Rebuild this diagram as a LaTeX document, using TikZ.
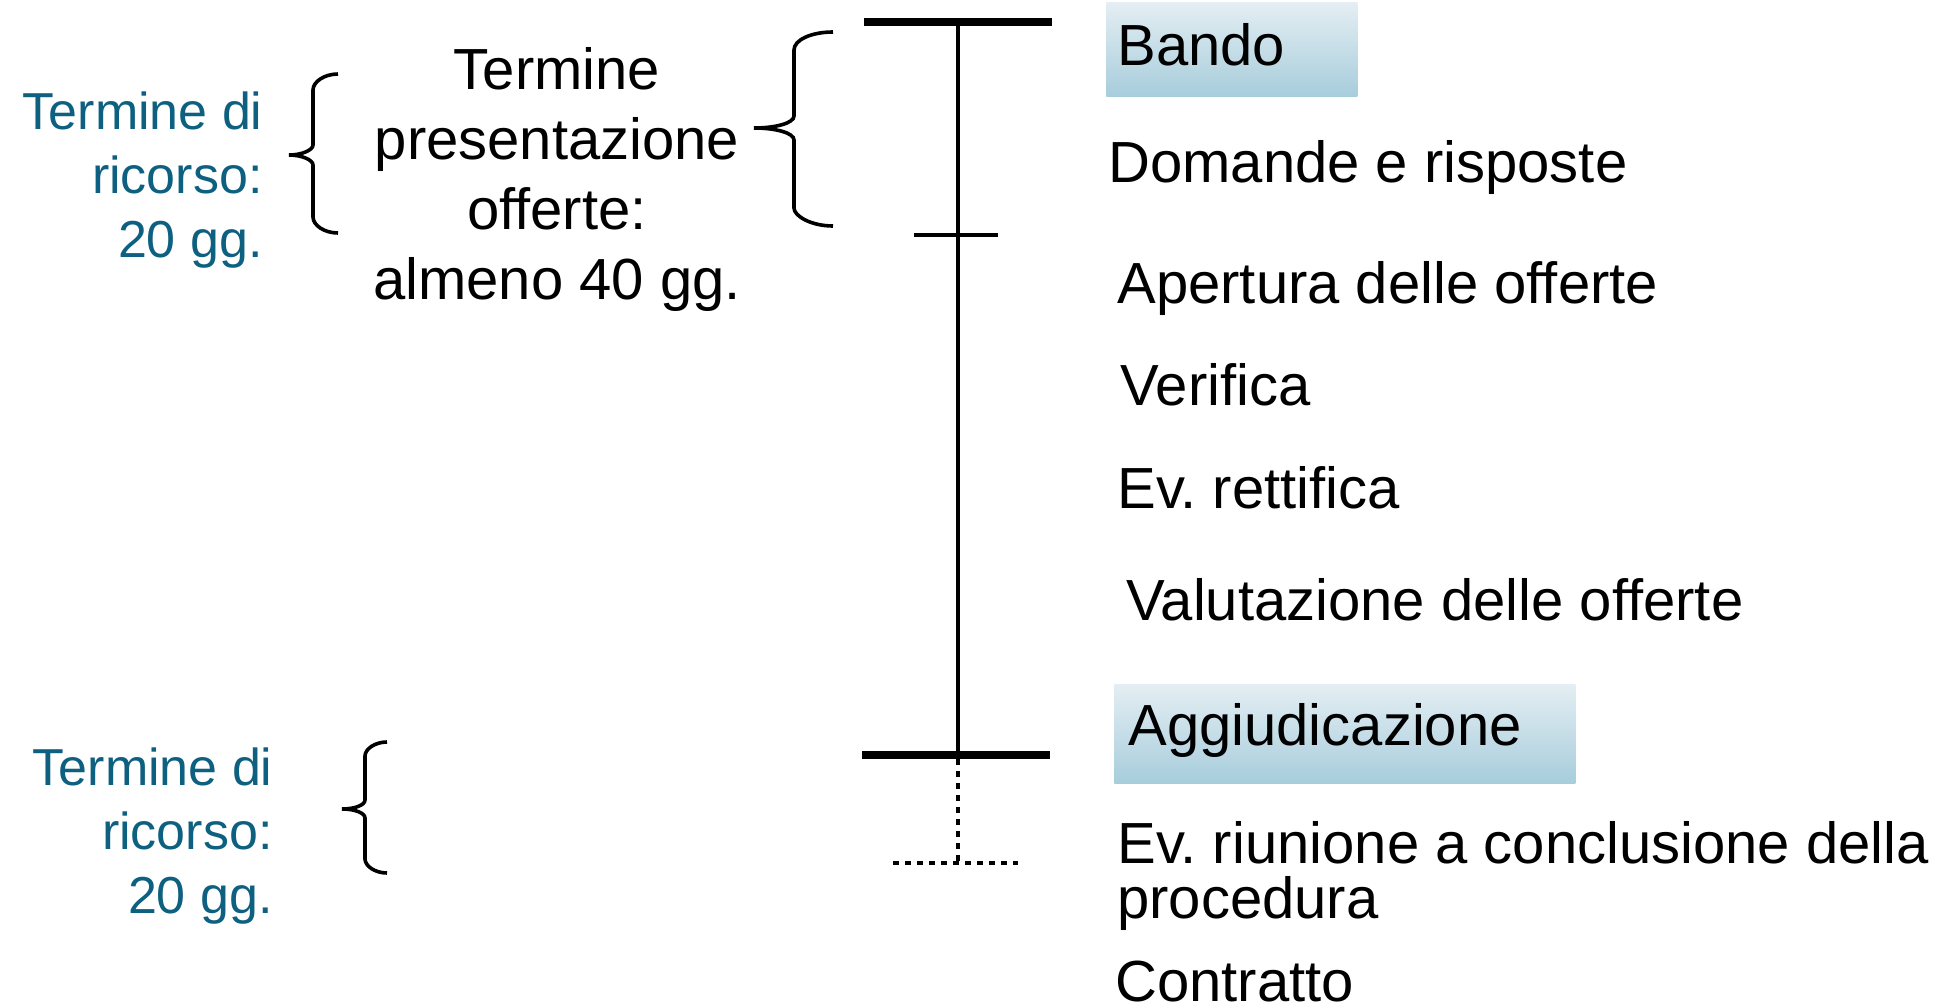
\documentclass[tikz,border=0pt]{standalone}
\usepackage{fontspec}
\setmainfont{Liberation Sans}
\usepackage{tikz}
\frenchspacing

\definecolor{ricorso}{RGB}{14,96,128}
\definecolor{boxtop}{RGB}{228,238,243}
\definecolor{boxbot}{RGB}{167,205,220}

\begin{document}
\begin{tikzpicture}[x=0.5pt, y=-0.5pt,
    txt/.style={font=\fontsize{29}{35}\selectfont, inner sep=0pt},
    note/.style={font=\fontsize{26}{32}\selectfont, text=ricorso, align=right, inner sep=0pt},
    phase/.style={txt, top color=boxtop, bottom color=boxbot, anchor=north west, align=left},
    bar/.style={line width=4pt},
    curly/.style={line width=1.8pt}]
    \useasboundingbox (0, 0) rectangle (1954, 1007);
    % timeline
    \coordinate (t0) at (958, 22);
    \coordinate (t1) at (958, 235);
    \coordinate (t2) at (958, 755);
    \coordinate (t3) at (958, 863);
    \draw [bar]          (864, 22) -- (1052, 22);
    \draw [line width=2pt]   (t0) -- (t2);
    \draw [line width=1.6pt] (914, 235) -- (998, 235);
    \draw [bar]          (862, 755) -- (1050, 755);
    \draw [line width=2pt, dash pattern=on 3pt off 3pt] ([yshift=-2pt]t2) -- (t3);
    \draw [line width=2pt, dash pattern=on 3pt off 3pt] (893, 863) -- (1018, 863);
    % braces
    \draw [curly]  (833, 32) .. controls (811, 32) and (794, 40) .. (794, 50) -- (794, 116)
                   .. controls (794, 123) and (776, 128) .. (754, 128)
                   .. controls (776, 128) and (794, 133) .. (794, 140) -- (794, 208)
                   .. controls (794, 216) and (811, 226) .. (833, 226);
    \draw [curly]  (338, 74) .. controls (324, 74) and (313, 82) .. (313, 90) -- (313, 145)
                   .. controls (313, 150) and (302, 155) .. (289, 155)
                   .. controls (302, 155) and (313, 160) .. (313, 165) -- (313, 217)
                   .. controls (313, 225) and (324, 233) .. (338, 233);
    \draw [curly]  (387, 742) .. controls (375, 742) and (365, 749) .. (365, 756) -- (365, 800)
                   .. controls (365, 805) and (355, 809) .. (342, 809)
                   .. controls (355, 809) and (365, 813) .. (365, 818) -- (365, 859)
                   .. controls (365, 866) and (375, 873) .. (387, 873);
    % left labels (base = last line)
    \node [note, anchor=base east] (ricorso1) at (263, 257) {Termine di\\ricorso:\\20 gg.};
    \node [note, anchor=base east] (ricorso2) at (273, 913) {Termine di\\ricorso:\\20 gg.};
    \node [txt, align=center, anchor=base] (termine) at (557, 299)
          {Termine\\presentazione\\offerte:\\almeno 40 gg.};
    % phases
    \node [phase, text width=114.5pt, inner xsep=5.5pt, text height=31.5pt, text depth=15.5pt]
          (bando) at (1106, 2) {Bando};
    \node [txt, anchor=base west] (domande)    at (1108, 182) {Domande e risposte};
    \node [txt, anchor=base west] (apertura)   at (1117, 303) {Apertura delle offerte};
    \node [txt, anchor=base west] (verifica)   at (1120, 405) {Verifica};
    \node [txt, anchor=base west] (rettifica)  at (1117, 508) {Ev. rettifica};
    \node [txt, anchor=base west] (valutazione) at (1126, 620) {Valutazione delle offerte};
    \node [phase, text width=216.5pt, inner xsep=7pt, text height=30.5pt, text depth=19pt]
          (aggiudicazione) at (1114, 684) {Aggiudicazione};
    \node [txt, anchor=base west, align=left, font=\fontsize{29}{27.5}\selectfont]
          (riunione) at (1117, 918) {Ev. riunione a conclusione della\\procedura};
    \node [txt, anchor=base west] (contratto)  at (1115, 1001) {Contratto};
\end{tikzpicture}
\end{document}
